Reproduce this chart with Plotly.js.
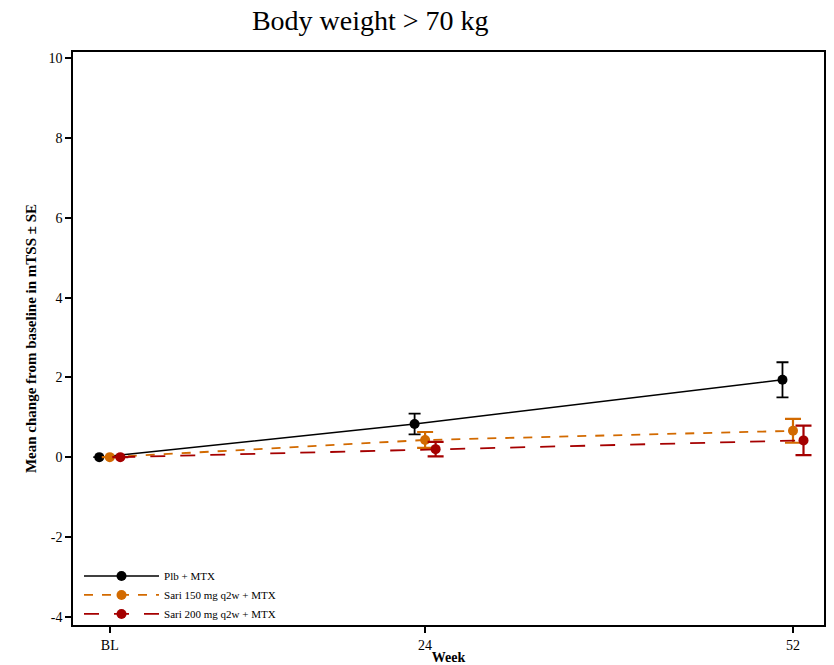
<!DOCTYPE html>
<html>
<head>
<meta charset="utf-8">
<script src="https://cdn.plot.ly/plotly-3.0.1.min.js"></script>
<style>html,body{margin:0;padding:0;background:#fff;}#chart{width:834px;height:665px;}</style>
</head>
<body>
<div id="chart"></div>
<script>
// Data
const weeks = [0, 24, 52];
const weekLabels = ["BL", "24", "52"];
const yTickVals = [-4, -2, 0, 2, 4, 6, 8, 10];
const yTickText = ["-4", "-2", "0", "2", "4", "6", "8", "10"];
const seriesNames = ["Plb + MTX", "Sari 150 mg q2w + MTX", "Sari 200 mg q2w + MTX"];
const plbMean = [0, 0.83, 1.94];
const plbSE = [0, 0.26, 0.44];
const sari150Mean = [0, 0.43, 0.66];
const sari150SE = [0, 0.20, 0.30];
const sari200Mean = [0, 0.20, 0.42];
const sari200SE = [0, 0.18, 0.37];

const colors = ["#000000", "#D26A00", "#A50000"];
const dashes = ["solid", "dash", "longdash"];
const dodge = [-0.8, 0, 0.8];
const means = [plbMean, sari150Mean, sari200Mean];
const ses = [plbSE, sari150SE, sari200SE];
const serif = "Liberation Serif";

const traces = means.map((m, i) => ({
  type: "scatter",
  mode: "lines+markers",
  name: seriesNames[i],
  x: weeks.map(w => w + dodge[i]),
  y: m,
  line: {color: colors[i], width: i === 0 ? 1.5 : 1.8, dash: dashes[i]},
  marker: {color: colors[i], size: 10, symbol: "circle"},
  error_y: {type: "data", array: ses[i], visible: true, color: colors[i], thickness: i === 0 ? 1.8 : 2.2, width: i === 0 ? 6 : 8},
  cliponaxis: false
}));

const layout = {
  width: 834, height: 665,
  margin: {l: 73, r: 10, t: 52, b: 40},
  paper_bgcolor: "#fff", plot_bgcolor: "#fff",
  font: {family: serif, color: "#000", size: 14},
  title: {text: "Body weight > 70 kg", font: {family: serif, size: 28, color: "#000"}, x: 0.444, xanchor: "center", xref: "container", y: 0.97, yanchor: "middle"},
  xaxis: {
    range: [-2.8, 54.36], tickmode: "array", tickvals: weeks, ticktext: weekLabels,
    ticks: "outside", ticklen: 6, tickwidth: 1.5, tickcolor: "#000",
    showline: true, linecolor: "#000", linewidth: 1.5, mirror: true,
    showgrid: false, zeroline: false,
    tickfont: {family: serif, size: 14},
    title: {text: "<b>Week</b>", font: {family: serif, size: 14}, standoff: 0}
  },
  yaxis: {
    range: [-4.21, 10.16], tickmode: "array", tickvals: yTickVals, ticktext: yTickText,
    ticks: "outside", ticklen: 6, tickwidth: 1.5, tickcolor: "#000",
    showline: true, linecolor: "#000", linewidth: 1.5, mirror: true,
    showgrid: false, zeroline: false,
    tickfont: {family: serif, size: 14},
    title: {text: "<b>Mean change from baseline in mTSS ± SE</b>", font: {family: serif, size: 15}, standoff: 8}
  },
  showlegend: true,
  legend: {x: 0.008, y: -0.006, xanchor: "left", yanchor: "bottom", bgcolor: "rgba(0,0,0,0)", font: {family: serif, size: 11}, tracegroupgap: 0, itemwidth: 75}
};

Plotly.newPlot("chart", traces, layout, {displayModeBar: false});
</script>
</body>
</html>
